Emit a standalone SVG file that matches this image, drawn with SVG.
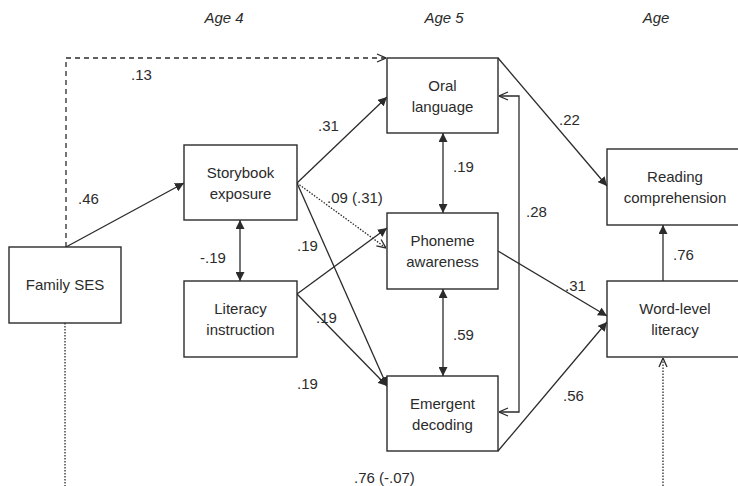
<svg xmlns="http://www.w3.org/2000/svg" width="738" height="486" viewBox="0 0 738 486">
<style>
.box{fill:#fff;stroke:#2b2b2b;stroke-width:1.4}
.t{font-family:"Liberation Sans",Arial,sans-serif;font-size:15px;fill:#2b2b2b;text-anchor:middle}
.lbl{font-family:"Liberation Sans",Arial,sans-serif;font-size:15px;fill:#2b2b2b}
.age{font-family:"Liberation Sans",Arial,sans-serif;font-size:15px;font-style:italic;fill:#2b2b2b;text-anchor:middle}
.c{fill:none;stroke:#2b2b2b;stroke-width:1.3}
.dash{stroke-dasharray:5,4}
.dot{stroke-dasharray:1.5,1.5}
</style>
<defs>
<marker id="fa" viewBox="0 0 10 10" refX="10" refY="5" markerWidth="9" markerHeight="9" markerUnits="userSpaceOnUse" orient="auto-start-reverse">
<path d="M0,0 L10,5 L0,10 Z" fill="#2b2b2b"/>
</marker>
<marker id="oa" viewBox="0 0 10 10" refX="10" refY="5" markerWidth="10" markerHeight="10" markerUnits="userSpaceOnUse" orient="auto-start-reverse">
<path d="M1,1 L10,5 L1,9" fill="none" stroke="#2b2b2b" stroke-width="1.3"/>
</marker>
</defs>
<text class="age" x="224" y="23">Age 4</text>
<text class="age" x="444" y="23">Age 5</text>
<text class="age" x="656" y="23">Age</text>
<g id="connectors">
<path class="c dash" d="M66,247 V58 H386" marker-end="url(#oa)"/>
<line class="c" x1="66" y1="247" x2="184" y2="183" marker-end="url(#fa)"/>
<line class="c" x1="297" y1="183" x2="387" y2="97" marker-end="url(#fa)"/>
<line class="c dot" x1="297" y1="183" x2="386" y2="248" marker-end="url(#oa)"/>
<line class="c" x1="297" y1="183" x2="387" y2="386" marker-end="url(#fa)"/>
<line class="c" x1="240" y1="220" x2="240" y2="281" marker-start="url(#fa)" marker-end="url(#fa)"/>
<line class="c" x1="297" y1="294" x2="387" y2="228" marker-end="url(#fa)"/>
<line class="c" x1="297" y1="294" x2="387" y2="386" marker-end="url(#fa)"/>
<line class="c" x1="443" y1="133" x2="443" y2="213" marker-start="url(#fa)" marker-end="url(#fa)"/>
<line class="c" x1="443" y1="289" x2="443" y2="376" marker-start="url(#fa)" marker-end="url(#fa)"/>
<path class="c" d="M499,96 H519 V412 H499" marker-start="url(#oa)" marker-end="url(#oa)"/>
<line class="c" x1="498" y1="58" x2="607" y2="186" marker-end="url(#fa)"/>
<line class="c" x1="498" y1="251" x2="607" y2="316" marker-end="url(#fa)"/>
<line class="c" x1="498" y1="451" x2="607" y2="322" marker-end="url(#fa)"/>
<line class="c" x1="663" y1="281" x2="663" y2="225" marker-end="url(#fa)"/>
<line class="c dot" x1="663" y1="486" x2="663" y2="358" marker-end="url(#oa)"/>
<line class="c dot" x1="65" y1="323" x2="65" y2="486"/>
</g>
<g id="family-ses"><rect class="box" x="9" y="247" width="112" height="76"/><text class="t" x="65" y="290">Family SES</text></g>
<g id="storybook"><rect class="box" x="184" y="145" width="113" height="75"/><text class="t" x="240.5" y="178">Storybook</text><text class="t" x="240.5" y="199">exposure</text></g>
<g id="literacy-instruction"><rect class="box" x="184" y="281" width="113" height="76"/><text class="t" x="240.5" y="314">Literacy</text><text class="t" x="240.5" y="335">instruction</text></g>
<g id="oral-language"><rect class="box" x="387" y="58" width="111" height="75"/><text class="t" x="442.5" y="91">Oral</text><text class="t" x="442.5" y="112">language</text></g>
<g id="phoneme-awareness"><rect class="box" x="387" y="213" width="111" height="76"/><text class="t" x="442.5" y="246">Phoneme</text><text class="t" x="442.5" y="267">awareness</text></g>
<g id="emergent-decoding"><rect class="box" x="387" y="376" width="111" height="75"/><text class="t" x="442.5" y="409">Emergent</text><text class="t" x="442.5" y="430">decoding</text></g>
<g id="reading-comprehension"><rect class="box" x="607" y="149" width="135" height="76"/><text class="t" x="675" y="182">Reading</text><text class="t" x="675" y="203">comprehension</text></g>
<g id="word-level-literacy"><rect class="box" x="607" y="281" width="135" height="76"/><text class="t" x="675" y="314">Word-level</text><text class="t" x="675" y="335">literacy</text></g>
<g id="labels">
<text class="lbl" x="131" y="80">.13</text>
<text class="lbl" x="78" y="204">.46</text>
<text class="lbl" x="318" y="131">.31</text>
<text class="lbl" x="327" y="203">.09 (.31)</text>
<text class="lbl" x="297" y="251">.19</text>
<text class="lbl" x="200" y="263">-.19</text>
<text class="lbl" x="316" y="323">.19</text>
<text class="lbl" x="297" y="389">.19</text>
<text class="lbl" x="453" y="172">.19</text>
<text class="lbl" x="453" y="340">.59</text>
<text class="lbl" x="526" y="217">.28</text>
<text class="lbl" x="559" y="125">.22</text>
<text class="lbl" x="565" y="291">.31</text>
<text class="lbl" x="673" y="260">.76</text>
<text class="lbl" x="563" y="401">.56</text>
<text class="lbl" x="354" y="483">.76 (-.07)</text>
</g>
</svg>
